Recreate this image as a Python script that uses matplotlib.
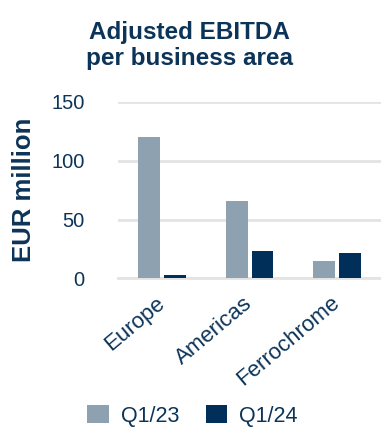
import numpy as np
import matplotlib
matplotlib.use("Agg")
from matplotlib import pyplot as plt

# data
categories = ["Europe", "Americas", "Ferrochrome"]
q1_23 = [120, 66, 14.5]
q1_24 = [2.5, 23, 21.5]
series_names = ["Q1/23", "Q1/24"]
yticks = [0, 50, 100, 150]

NAVY_TXT = "#0c3459"
C_23 = "#8da1b1"
C_24 = "#00305a"
GRID = "#e3e3e3"

plt.rcParams["font.family"] = ["Liberation Sans", "DejaVu Sans"]

fig = plt.figure(figsize=(3.81, 4.30), dpi=100)
ax = fig.add_axes([0.31, 0.3528, 0.69, 0.4100])

x = np.arange(len(categories))
w = 0.25
off = 0.148
ax.bar(x - off, q1_23, width=w, color=C_23, label=series_names[0], zorder=3)
ax.bar(x + off, q1_24, width=w, color=C_24, label=series_names[1], zorder=3)

ax.set_xlim(-0.5, 2.5)
ax.set_ylim(0, 150)
ax.set_yticks(yticks)
ax.set_yticklabels([str(v) for v in yticks], fontsize=14.5, color=NAVY_TXT)
ax.yaxis.grid(True, color=GRID, linewidth=2, zorder=0)
ax.set_axisbelow(True)
for s in ["top", "right", "left"]:
    ax.spines[s].set_visible(False)
ax.spines["bottom"].set_color(GRID)
ax.spines["bottom"].set_linewidth(2)
ax.tick_params(axis="both", length=0)
ax.tick_params(axis="y", pad=24)

ax.set_xticks(x)
ax.set_xticklabels(categories, fontsize=16, color=NAVY_TXT, rotation=40,
                   ha="right", va="center", rotation_mode="anchor")
ax.tick_params(axis="x", pad=16)

ax.set_ylabel("EUR million", fontsize=18.5, fontweight="bold", color=NAVY_TXT)
ax.yaxis.set_label_coords(-0.313, 0.5)

fig.text(0.497, 0.95, "Adjusted EBITDA\nper business area", ha="center",
         va="top", fontsize=17.5, fontweight="bold", color=NAVY_TXT,
         linespacing=1.15)

fig.legend(loc="lower center", bbox_to_anchor=(0.505, -0.012), ncol=2,
           frameon=False, fontsize=15.5, handlelength=1.0, handleheight=0.95,
           handletextpad=0.55, columnspacing=1.25, borderaxespad=0,
           labelcolor=NAVY_TXT)

fig.savefig("out.png", dpi=100)
